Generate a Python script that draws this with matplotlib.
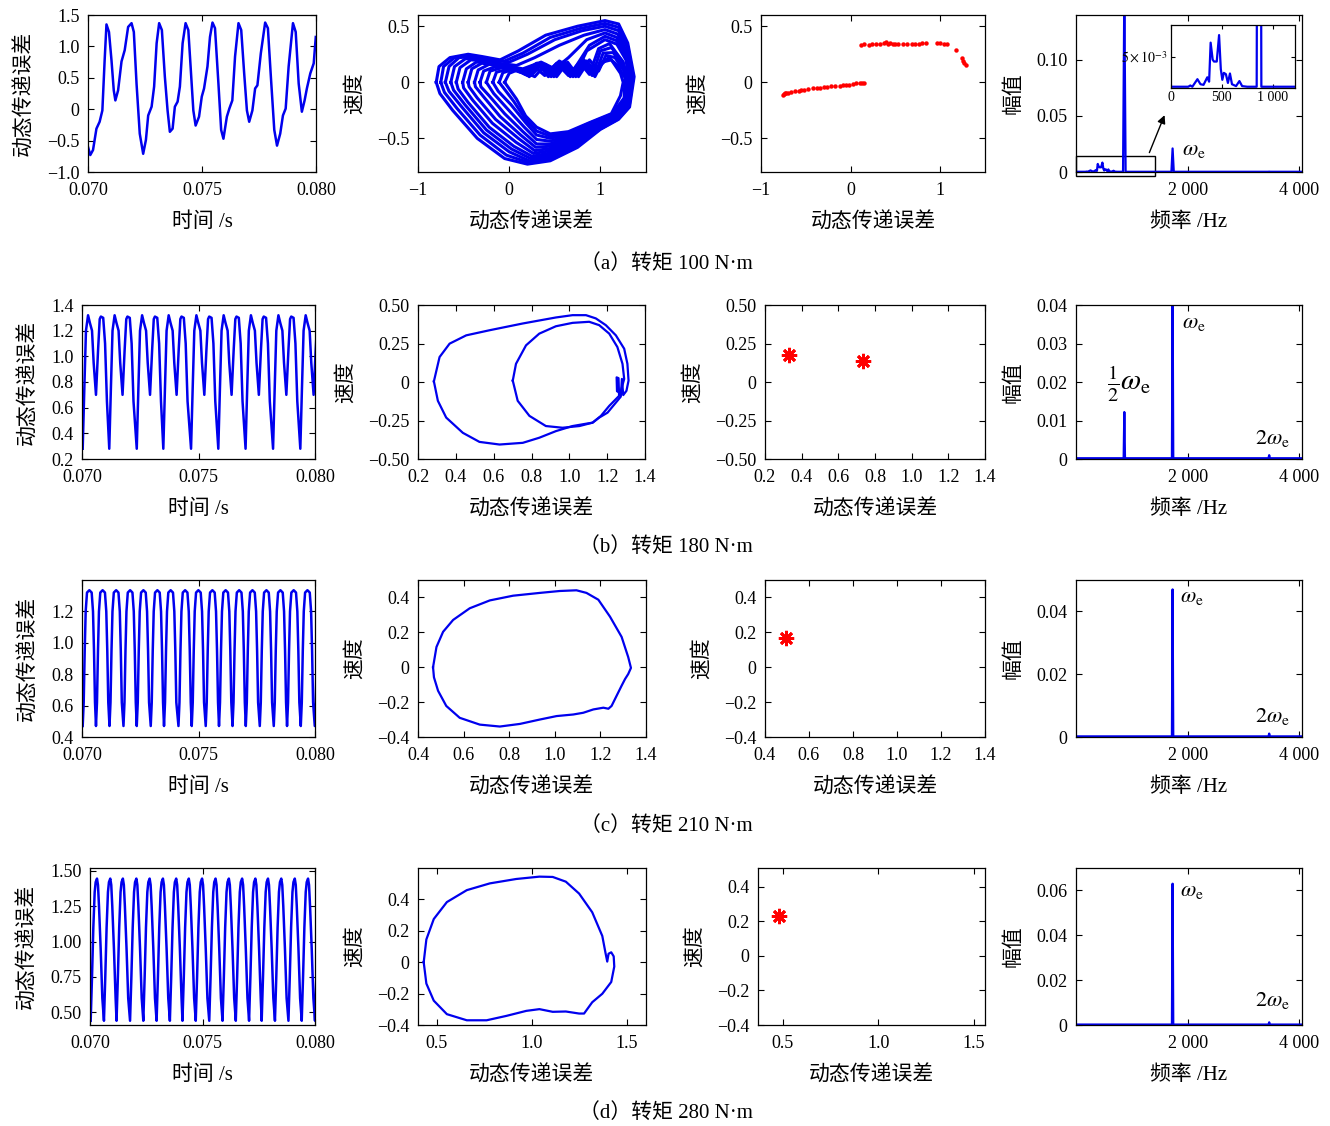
import numpy as np
import matplotlib.pyplot as plt
from matplotlib.patches import Rectangle

plt.rcParams['font.family'] = ['Liberation Serif', 'Noto Sans CJK SC']
plt.rcParams['mathtext.fontset'] = 'stix'
plt.rcParams['font.size'] = 13
plt.rcParams['xtick.direction'] = 'in'
plt.rcParams['ytick.direction'] = 'in'
plt.rcParams['xtick.top'] = True
plt.rcParams['ytick.right'] = True
plt.rcParams['xtick.major.size'] = 4
plt.rcParams['ytick.major.size'] = 4
plt.rcParams['xtick.major.pad'] = 7
plt.rcParams['ytick.major.pad'] = 6
plt.rcParams['axes.linewidth'] = 0.9

BLUE = '#0000ee'
RED = '#ff0000'

# ---------------- data ----------------
# (a) 100 N·m time series
t_a = [0.07000, 0.07010, 0.07022, 0.07037, 0.07051, 0.07063, 0.07073, 0.07081, 0.07092, 0.07103,
       0.07113, 0.07120, 0.07132, 0.07147, 0.07161, 0.07176, 0.07191, 0.07201, 0.07213, 0.07227,
       0.07242, 0.07254, 0.07264, 0.07279, 0.07290, 0.07301, 0.07312, 0.07324, 0.07337, 0.07349,
       0.07359, 0.07371, 0.07381, 0.07393, 0.07403, 0.07415, 0.07428, 0.07440, 0.07450, 0.07462,
       0.07472, 0.07487, 0.07499, 0.07509, 0.07524, 0.07535, 0.07546, 0.07557, 0.07572, 0.07584,
       0.07594, 0.07609, 0.07620, 0.07633, 0.07645, 0.07660, 0.07672, 0.07685, 0.07697, 0.07707,
       0.07721, 0.07733, 0.07743, 0.07758, 0.07777, 0.07789, 0.07802, 0.07817, 0.07829, 0.07843,
       0.07855, 0.07867, 0.07880, 0.07899, 0.07911, 0.07924, 0.07938, 0.07950, 0.07960, 0.07975,
       0.07990, 0.07999]
y_a = [-0.60, -0.73, -0.65, -0.31, -0.20, -0.02, 0.78, 1.35, 1.23, 0.78,
       0.30, 0.14, 0.30, 0.76, 0.94, 1.31, 1.37, 1.23, 0.40, -0.39,
       -0.71, -0.49, -0.10, 0.04, 0.36, 1.05, 1.37, 1.26, 0.52, -0.02,
       -0.36, -0.31, 0.04, 0.12, 0.36, 1.05, 1.37, 1.26, 0.68, -0.02,
       -0.26, -0.12, 0.20, 0.33, 0.68, 1.15, 1.38, 1.29, 0.41, -0.33,
       -0.47, -0.12, 0.01, 0.14, 0.84, 1.37, 1.26, 0.57, -0.02, -0.20,
       -0.02, 0.33, 0.38, 0.89, 1.38, 1.29, 0.52, -0.33, -0.58, -0.39,
       -0.10, 0.01, 0.68, 1.37, 1.23, 0.41, -0.04, 0.14, 0.33, 0.57,
       0.73, 1.15]

# periodic series: cycle start times + one cycle waveform
b_start = [0.07003, 0.07117, 0.07235, 0.07349, 0.07468, 0.07585, 0.07702, 0.07820, 0.07937]
b_dt = [0, 0.00007, 0.00014, 0.00023, 0.00031, 0.00040, 0.00047, 0.00057, 0.00066, 0.00073,
        0.00078, 0.00088, 0.00096, 0.00104]
b_wave = [0.28, 0.75, 1.20, 1.32, 1.26, 1.20, 0.95, 0.70, 1.05, 1.29, 1.31, 1.30, 1.10, 0.65]

c_start = [0.07003, 0.07060, 0.07118, 0.07178, 0.07235, 0.07295, 0.07352, 0.07414, 0.07471,
           0.07531, 0.07588, 0.07646, 0.07703, 0.07763, 0.07823, 0.07880, 0.07939, 0.07999]
c_dt = [0, 0.000043, 0.000086, 0.000128, 0.000185, 0.000285, 0.000385, 0.000442, 0.000485, 0.000528]
c_wave = [0.47, 0.62, 0.95, 1.20, 1.32, 1.335, 1.32, 1.20, 0.95, 0.62]

d_start = [0.07003, 0.07062, 0.07118, 0.07178, 0.07237, 0.07296, 0.07355, 0.07411, 0.07470,
           0.07530, 0.07589, 0.07648, 0.07707, 0.07763, 0.07822, 0.07882, 0.07941, 0.08000]
d_dt = [0, 0.000059, 0.000118, 0.000178, 0.000222, 0.000281, 0.000325, 0.000370, 0.000444, 0.000518]
d_wave = [0.44, 0.75, 1.10, 1.35, 1.42, 1.445, 1.40, 1.25, 0.95, 0.60]

# (a) phase portrait: loops of the chaotic band, outermost to innermost
loops_a = [
    [(-0.80, 0.00), (-0.77, 0.14), (-0.65, 0.22), (-0.45, 0.25), (-0.30, 0.23), (-0.10, 0.20),
     (0.10, 0.28), (0.40, 0.42), (0.75, 0.50), (1.05, 0.55), (1.20, 0.52), (1.30, 0.35),
     (1.37, 0.05), (1.32, -0.22), (1.20, -0.33), (1.00, -0.42), (0.75, -0.58), (0.45, -0.70),
     (0.20, -0.73), (-0.05, -0.68), (-0.35, -0.50), (-0.62, -0.25), (-0.76, -0.10), (-0.80, 0.00)],
    [(-0.75, 0.00), (-0.72, 0.14), (-0.60, 0.22), (-0.43, 0.24), (-0.25, 0.21), (-0.05, 0.19),
     (0.15, 0.26), (0.45, 0.40), (0.78, 0.48), (1.05, 0.525), (1.20, 0.49), (1.30, 0.32),
     (1.36, 0.05), (1.315, -0.22), (1.19, -0.33), (0.99, -0.42), (0.74, -0.57), (0.45, -0.685),
     (0.21, -0.715), (-0.03, -0.65), (-0.32, -0.47), (-0.57, -0.235), (-0.71, -0.09), (-0.75, 0.00)],
    [(-0.70, 0.00), (-0.66, 0.14), (-0.55, 0.22), (-0.40, 0.23), (-0.20, 0.20), (0.00, 0.18),
     (0.20, 0.25), (0.50, 0.38), (0.80, 0.46), (1.05, 0.50), (1.20, 0.46), (1.30, 0.30),
     (1.35, 0.05), (1.31, -0.22), (1.18, -0.33), (0.98, -0.42), (0.72, -0.56), (0.45, -0.67),
     (0.22, -0.70), (0.00, -0.62), (-0.28, -0.45), (-0.52, -0.22), (-0.66, -0.08), (-0.70, 0.00)],
    [(-0.64, 0.00), (-0.60, 0.14), (-0.48, 0.21), (-0.32, 0.21), (-0.12, 0.17), (0.08, 0.15),
     (0.28, 0.22), (0.55, 0.33), (0.82, 0.42), (1.05, 0.47), (1.19, 0.43), (1.29, 0.27),
     (1.34, 0.04), (1.305, -0.22), (1.175, -0.325), (0.965, -0.41), (0.71, -0.545), (0.45, -0.65),
     (0.235, -0.68), (0.025, -0.595), (-0.25, -0.425), (-0.485, -0.20), (-0.61, -0.07), (-0.64, 0.00)],
    [(-0.58, 0.00), (-0.54, 0.13), (-0.42, 0.20), (-0.25, 0.19), (-0.05, 0.15), (0.15, 0.12),
     (0.35, 0.18), (0.50, 0.12), (0.65, 0.22), (0.85, 0.38), (1.05, 0.44), (1.18, 0.40),
     (1.28, 0.25), (1.33, 0.03), (1.30, -0.22), (1.17, -0.32), (0.95, -0.40), (0.70, -0.53),
     (0.45, -0.63), (0.25, -0.66), (0.05, -0.57), (-0.22, -0.40), (-0.45, -0.18), (-0.56, -0.06),
     (-0.58, 0.00)],
    [(-0.51, 0.00), (-0.47, 0.12), (-0.36, 0.18), (-0.18, 0.17), (0.00, 0.14), (0.18, 0.10),
     (0.30, 0.17), (0.42, 0.09), (0.55, 0.19), (0.70, 0.10), (0.88, 0.33), (1.05, 0.41),
     (1.18, 0.37), (1.28, 0.22), (1.325, 0.02), (1.295, -0.21), (1.16, -0.315), (0.935, -0.395),
     (0.69, -0.515), (0.45, -0.61), (0.265, -0.635), (0.075, -0.535), (-0.185, -0.365),
     (-0.40, -0.16), (-0.50, -0.05), (-0.51, 0.00)],
    [(-0.45, 0.00), (-0.41, 0.12), (-0.30, 0.17), (-0.12, 0.15), (0.05, 0.12), (0.20, 0.08),
     (0.35, 0.15), (0.48, 0.08), (0.60, 0.18), (0.72, 0.06), (0.85, 0.28), (1.05, 0.38),
     (1.18, 0.34), (1.28, 0.20), (1.32, 0.02), (1.29, -0.20), (1.15, -0.31), (0.92, -0.39),
     (0.68, -0.50), (0.45, -0.59), (0.28, -0.61), (0.10, -0.50), (-0.15, -0.33), (-0.35, -0.14),
     (-0.44, -0.04), (-0.45, 0.00)],
    [(-0.38, 0.00), (-0.34, 0.11), (-0.22, 0.16), (-0.03, 0.13), (0.12, 0.09), (0.26, 0.15),
     (0.39, 0.06), (0.52, 0.17), (0.65, 0.06), (0.77, 0.18), (0.88, 0.07), (0.98, 0.30),
     (1.10, 0.345), (1.24, 0.19), (1.31, 0.02), (1.285, -0.19), (1.145, -0.305), (0.91, -0.385),
     (0.67, -0.49), (0.45, -0.57), (0.29, -0.58), (0.125, -0.47), (-0.10, -0.305), (-0.28, -0.13),
     (-0.37, -0.04), (-0.38, 0.00)],
    [(-0.32, 0.00), (-0.28, 0.10), (-0.15, 0.14), (0.05, 0.12), (0.20, 0.06), (0.32, 0.16),
     (0.45, 0.06), (0.58, 0.17), (0.70, 0.06), (0.82, 0.18), (0.92, 0.08), (1.00, 0.28),
     (1.12, 0.31), (1.25, 0.18), (1.30, 0.02), (1.28, -0.18), (1.14, -0.30), (0.90, -0.38),
     (0.66, -0.48), (0.45, -0.55), (0.30, -0.55), (0.15, -0.44), (-0.05, -0.28), (-0.22, -0.12),
     (-0.31, -0.04), (-0.32, 0.00)],
    [(-0.25, 0.00), (-0.21, 0.10), (-0.08, 0.13), (0.10, 0.11), (0.24, 0.06), (0.36, 0.16),
     (0.49, 0.05), (0.61, 0.18), (0.73, 0.05), (0.85, 0.19), (0.95, 0.09), (1.03, 0.26),
     (1.14, 0.265), (1.255, 0.14), (1.30, 0.00), (1.27, -0.175), (1.135, -0.295), (0.89, -0.375),
     (0.655, -0.47), (0.45, -0.525), (0.30, -0.51), (0.165, -0.40), (-0.015, -0.24), (-0.17, -0.10),
     (-0.25, 0.00)],
    [(-0.18, 0.00), (-0.14, 0.09), (0.00, 0.12), (0.15, 0.10), (0.28, 0.05), (0.40, 0.16),
     (0.52, 0.05), (0.64, 0.18), (0.76, 0.05), (0.88, 0.20), (0.98, 0.10), (1.06, 0.24),
     (1.16, 0.22), (1.26, 0.10), (1.30, -0.02), (1.26, -0.17), (1.13, -0.29), (0.88, -0.37),
     (0.65, -0.46), (0.45, -0.50), (0.30, -0.47), (0.18, -0.36), (0.02, -0.20), (-0.12, -0.08),
     (-0.18, 0.00)],
    [(-0.11, 0.00), (-0.07, 0.085), (0.06, 0.12), (0.18, 0.07), (0.31, 0.17), (0.43, 0.05),
     (0.55, 0.17), (0.67, 0.05), (0.79, 0.19), (0.91, 0.06), (1.00, 0.15), (1.09, 0.22),
     (1.19, 0.15), (1.27, 0.04), (1.26, -0.14), (1.125, -0.285), (0.88, -0.365), (0.65, -0.45),
     (0.45, -0.48), (0.30, -0.435), (0.18, -0.33), (0.05, -0.17), (-0.11, 0.00)],
    [(-0.05, 0.00), (0.00, 0.08), (0.12, 0.12), (0.22, 0.05), (0.34, 0.17), (0.46, 0.05),
     (0.58, 0.18), (0.70, 0.05), (0.82, 0.20), (0.94, 0.05), (1.02, 0.18), (1.12, 0.20),
     (1.22, 0.08), (1.25, 0.00), (1.22, -0.12), (1.12, -0.28), (0.88, -0.36), (0.65, -0.44),
     (0.45, -0.46), (0.30, -0.40), (0.18, -0.30), (0.08, -0.15), (-0.05, 0.00)],
]

# (a) Poincare section points
pc_a_x = [-0.75, -0.74, -0.73, -0.72, -0.70, -0.66, -0.62, -0.58, -0.55, -0.52, -0.48, -0.42,
          -0.38, -0.34, -0.30, -0.26, -0.22, -0.17, -0.12, -0.08, -0.05, -0.02, 0.03, 0.06,
          0.11, 0.13, 0.15,
          0.12, 0.15, 0.20, 0.24, 0.28, 0.33, 0.37, 0.40, 0.42, 0.44, 0.47, 0.50, 0.53, 0.58,
          0.63, 0.68, 0.72, 0.76, 0.80, 0.84, 0.96, 1.00, 1.04, 1.08, 1.18, 1.24, 1.26, 1.27, 1.29]
pc_a_y = [-0.11, -0.105, -0.10, -0.10, -0.095, -0.09, -0.08, -0.075, -0.07, -0.065, -0.06, -0.055,
          -0.05, -0.05, -0.045, -0.04, -0.035, -0.03, -0.03, -0.025, -0.02, -0.02, -0.015, -0.01,
          -0.01, -0.008, -0.005,
          0.33, 0.34, 0.335, 0.34, 0.34, 0.345, 0.35, 0.355, 0.34, 0.35, 0.34, 0.345, 0.34, 0.34,
          0.34, 0.345, 0.345, 0.345, 0.35, 0.35, 0.35, 0.35, 0.345, 0.34, 0.29, 0.22, 0.19, 0.17, 0.15]

# (b) phase portrait: outer and inner loop
outer_b = [(0.284, 0.004), (0.314, 0.162), (0.367, 0.249), (0.455, 0.303), (0.578, 0.336),
           (0.754, 0.380), (0.929, 0.419), (1.017, 0.434), (1.088, 0.434), (1.140, 0.413),
           (1.193, 0.369), (1.246, 0.303), (1.290, 0.216), (1.307, 0.118), (1.313, 0.009),
           (1.302, -0.057), (1.285, -0.085), (1.278, 0.020), (1.272, -0.095), (1.254, -0.122),
           (1.202, -0.199), (1.158, -0.231), (1.123, -0.264), (1.088, -0.271), (1.017, -0.286),
           (0.929, -0.319), (0.841, -0.362), (0.754, -0.395), (0.631, -0.406), (0.525, -0.389),
           (0.437, -0.330), (0.349, -0.231), (0.305, -0.122), (0.284, 0.004)]
inner_b = [(0.701, 0.009), (0.718, 0.118), (0.771, 0.238), (0.841, 0.314), (0.929, 0.362),
           (1.017, 0.384), (1.105, 0.391), (1.158, 0.369), (1.211, 0.314), (1.254, 0.227),
           (1.281, 0.118), (1.290, 0.020), (1.270, -0.070), (1.252, -0.060), (1.250, 0.030),
           (1.260, 0.025), (1.263, -0.090), (1.211, -0.155), (1.167, -0.220), (1.123, -0.264),
           (1.053, -0.286), (0.964, -0.297), (0.876, -0.286), (0.789, -0.220), (0.727, -0.122),
           (0.701, 0.009)]
pc_b_x = [0.331, 0.733]
pc_b_y = [0.175, 0.139]

# (c) phase portrait
loop_c = [(0.466, 0.000), (0.481, 0.116), (0.510, 0.203), (0.554, 0.271), (0.627, 0.338),
          (0.715, 0.383), (0.817, 0.410), (0.934, 0.426), (1.022, 0.437), (1.095, 0.441),
          (1.139, 0.426), (1.191, 0.387), (1.242, 0.290), (1.293, 0.174), (1.322, 0.058),
          (1.334, -0.004), (1.322, -0.039), (1.308, -0.068), (1.293, -0.106), (1.271, -0.164),
          (1.249, -0.222), (1.235, -0.238), (1.213, -0.232), (1.169, -0.242), (1.125, -0.261),
          (1.081, -0.271), (1.008, -0.280), (0.934, -0.300), (0.847, -0.325), (0.759, -0.340),
          (0.671, -0.329), (0.583, -0.290), (0.524, -0.222), (0.488, -0.135), (0.470, -0.058),
          (0.466, 0.000)]
pc_c_x = [0.495]
pc_c_y = [0.17]

# (d) phase portrait
loop_d = [(0.430, 0.000), (0.444, 0.145), (0.483, 0.275), (0.552, 0.383), (0.657, 0.459),
          (0.778, 0.502), (0.917, 0.530), (1.039, 0.545), (1.109, 0.543), (1.178, 0.513),
          (1.248, 0.437), (1.317, 0.318), (1.370, 0.167), (1.387, 0.058), (1.396, 0.004),
          (1.403, 0.054), (1.417, 0.063), (1.430, 0.037), (1.433, -0.028), (1.417, -0.126),
          (1.370, -0.201), (1.317, -0.255), (1.274, -0.327), (1.248, -0.327), (1.178, -0.314),
          (1.109, -0.316), (1.039, -0.299), (0.970, -0.310), (0.865, -0.342), (0.761, -0.370),
          (0.657, -0.370), (0.552, -0.331), (0.483, -0.245), (0.444, -0.136), (0.430, 0.000)]
pc_d_x = [0.48]
pc_d_y = [0.23]

# spectra
freq_a = [0, 170, 190, 210, 260, 290, 320, 357, 375, 390, 410, 423, 450, 473, 490, 505, 520, 540,
          560, 580, 600, 640, 673, 700, 750, 843, 866, 889, 1000, 1710, 1731, 1752, 2500, 3440,
          3462, 3484, 4050]
amp_a = [0.0002, 0.0002, 0.0004, 0.0002, 0.0014, 0.0006, 0.0005, 0.0017, 0.0010, 0.0072, 0.0045,
         0.0042, 0.0042, 0.0084, 0.0030, 0.0013, 0.0024, 0.0022, 0.0008, 0.0023, 0.0006, 0.0003,
         0.0011, 0.0003, 0.0002, 0.0002, 0.160, 0.0002, 0.0002, 0.0002, 0.021, 0.0002, 0.0002,
         0.0002, 0.0003, 0.0002, 0.0002]
freq_b = [0, 854, 866, 878, 1719, 1731, 1743, 3450, 3462, 3474, 4050]
amp_b = [0.0002, 0.0002, 0.0122, 0.0002, 0.0002, 0.045, 0.0002, 0.0002, 0.0010, 0.0002, 0.0002]
freq_c = [0, 1719, 1731, 1743, 3450, 3462, 3474, 4050]
amp_c = [0.0002, 0.0002, 0.047, 0.0002, 0.0002, 0.0011, 0.0002, 0.0002]
freq_d = [0, 1719, 1731, 1743, 3450, 3462, 3474, 4050]
amp_d = [0.0002, 0.0002, 0.063, 0.0002, 0.0002, 0.0012, 0.0002, 0.0002]

captions = ['（a）转矩 100 N·m', '（b）转矩 180 N·m', '（c）转矩 210 N·m', '（d）转矩 280 N·m']


def build(starts, dts, wave):
    t, y = [], []
    for s in starts:
        for dt, v in zip(dts, wave):
            t.append(s + dt)
            y.append(v)
    return t, y


def lbl(vals, fmt):
    out = []
    for v in vals:
        s = '0' if abs(v) < 1e-12 else format(v, fmt)
        out.append(s.replace('-', '−'))
    return out


W, H = 1330, 1126
fig = plt.figure(figsize=(W / 100, H / 100), dpi=100)


def add_ax(l, t, r, b):
    return fig.add_axes([l / W, 1 - b / H, (r - l) / W, (b - t) / H])


def style(ax, xlim, ylim, xt, xtl, yt, ytl, xlabel, ylabel):
    ax.set_xlim(*xlim)
    ax.set_ylim(*ylim)
    ax.set_xticks(xt)
    ax.set_xticklabels(xtl)
    ax.set_yticks(yt)
    ax.set_yticklabels(ytl)
    ax.set_xlabel(xlabel, labelpad=10, fontsize=15)
    ax.set_ylabel(ylabel, labelpad=9, fontsize=15)
    ax.tick_params(labelsize=13)


rows = [(15, 172), (305, 459), (580, 737), (868, 1025)]
cols = [[(88, 316), (418, 646), (761, 985), (1076, 1302)],
        [(82, 315), (418, 645), (765, 985), (1076, 1302)],
        [(82, 315), (418, 646), (765, 985), (1076, 1302)],
        [(90, 315), (418, 646), (758, 985), (1076, 1302)]]
cap_y = [264, 547, 826, 1113]

t_ticks = [0.070, 0.075, 0.080]
t_lbls = ['0.070', '0.075', '0.080']
f_ticks = [2000, 4000]
f_lbls = ['2 000', '4 000']
X_ERR = '动态传递误差'

axs = [[add_ax(l, rows[i][0], r, rows[i][1]) for (l, r) in cols[i]] for i in range(4)]

# ---- row a ----
ax = axs[0][0]
ax.plot(t_a, y_a, color=BLUE, lw=1.8)
yt = [-1.0, -0.5, 0, 0.5, 1.0, 1.5]
style(ax, (0.070, 0.080), (-1.0, 1.5), t_ticks, t_lbls, yt, lbl(yt, '.1f'), '时间 /s', X_ERR)

ax = axs[0][1]
for lp in loops_a:
    xs, ys = zip(*lp)
    ax.plot(xs, ys, color=BLUE, lw=2.2)
style(ax, (-1.0, 1.5), (-0.8, 0.6), [-1, 0, 1], ['−1', '0', '1'],
      [-0.5, 0, 0.5], ['−0.5', '0', '0.5'], X_ERR, '速度')

ax = axs[0][2]
ax.plot(pc_a_x, pc_a_y, 'o', color=RED, ms=3.2, mec='none')
style(ax, (-1.0, 1.5), (-0.8, 0.6), [-1, 0, 1], ['−1', '0', '1'],
      [-0.5, 0, 0.5], ['−0.5', '0', '0.5'], X_ERR, '速度')

ax = axs[0][3]
ax.plot(freq_a, amp_a, color=BLUE, lw=1.6)
style(ax, (0, 4050), (0, 0.14), f_ticks, f_lbls, [0, 0.05, 0.10], ['0', '0.05', '0.10'],
      '频率 /Hz', '幅值')
ax.add_patch(Rectangle((0, -0.0039), 1415, 0.0181, fill=False, ec='k', lw=1.0, clip_on=False))
ax.annotate('', xy=(1606, 0.053), xytext=(1296, 0.015),
            arrowprops=dict(arrowstyle='-|>', color='k', lw=1.0, mutation_scale=12))
ax.text(1893, 0.0196, r'$\omega_{\rm e}$', fontsize=16, va='center')

ins = add_ax(1171, 25, 1295, 88)
ins.plot(freq_a, amp_a, color=BLUE, lw=1.6)
ins.set_xlim(0, 1220)
ins.set_ylim(0, 0.01)
ins.set_xticks([0, 500, 1000])
ins.set_xticklabels(['0', '500', '1 000'])
ins.set_yticks([0.005])
ins.set_yticklabels([r'$5\times10^{-3}$'])
ins.tick_params(labelsize=10, length=3, pad=2)

# ---- row b ----
tb, yb = build(b_start, b_dt, b_wave)
ax = axs[1][0]
ax.plot(tb, yb, color=BLUE, lw=1.8)
yt = [0.2, 0.4, 0.6, 0.8, 1.0, 1.2, 1.4]
style(ax, (0.070, 0.080), (0.2, 1.4), t_ticks, t_lbls, yt, lbl(yt, '.1f'), '时间 /s', X_ERR)

ax = axs[1][1]
for lp in (outer_b, inner_b):
    xs, ys = zip(*lp)
    ax.plot(xs, ys, color=BLUE, lw=1.6)
xt = [0.2, 0.4, 0.6, 0.8, 1.0, 1.2, 1.4]
yt = [-0.5, -0.25, 0, 0.25, 0.5]
style(ax, (0.2, 1.4), (-0.5, 0.5), xt, lbl(xt, '.1f'), yt, lbl(yt, '.2f'), X_ERR, '速度')

ax = axs[1][2]
ax.plot(pc_b_x, pc_b_y, ls='none', marker=(8, 2, 0), color=RED, ms=11, mew=2)
style(ax, (0.2, 1.4), (-0.5, 0.5), xt, lbl(xt, '.1f'), yt, lbl(yt, '.2f'), X_ERR, '速度')

ax = axs[1][3]
ax.plot(freq_b, amp_b, color=BLUE, lw=1.6)
yt = [0, 0.01, 0.02, 0.03, 0.04]
style(ax, (0, 4050), (0, 0.04), f_ticks, f_lbls, yt, lbl(yt, '.2f'), '频率 /Hz', '幅值')
ax.text(1893, 0.0353, r'$\omega_{\rm e}$', fontsize=16, va='center')
ax.text(560, 0.0195, r'$\frac{1}{2}\omega_{\rm e}$', fontsize=21, va='center')
ax.text(3206, 0.0052, r'$2\omega_{\rm e}$', fontsize=16, va='center')

# ---- row c ----
tc, yc = build(c_start, c_dt, c_wave)
ax = axs[2][0]
ax.plot(tc, yc, color=BLUE, lw=1.8)
yt = [0.4, 0.6, 0.8, 1.0, 1.2]
style(ax, (0.070, 0.080), (0.4, 1.4), t_ticks, t_lbls, yt, lbl(yt, '.1f'), '时间 /s', X_ERR)

ax = axs[2][1]
xs, ys = zip(*loop_c)
ax.plot(xs, ys, color=BLUE, lw=1.6)
xt = [0.4, 0.6, 0.8, 1.0, 1.2, 1.4]
yt = [-0.4, -0.2, 0, 0.2, 0.4]
style(ax, (0.4, 1.4), (-0.4, 0.5), xt, lbl(xt, '.1f'), yt, lbl(yt, '.1f'), X_ERR, '速度')

ax = axs[2][2]
ax.plot(pc_c_x, pc_c_y, ls='none', marker=(8, 2, 0), color=RED, ms=11, mew=2)
style(ax, (0.4, 1.4), (-0.4, 0.5), xt, lbl(xt, '.1f'), yt, lbl(yt, '.1f'), X_ERR, '速度')

ax = axs[2][3]
ax.plot(freq_c, amp_c, color=BLUE, lw=1.6)
yt = [0, 0.02, 0.04]
style(ax, (0, 4050), (0, 0.05), f_ticks, f_lbls, yt, lbl(yt, '.2f'), '频率 /Hz', '幅值')
ax.text(1863, 0.0443, r'$\omega_{\rm e}$', fontsize=16, va='center')
ax.text(3206, 0.0066, r'$2\omega_{\rm e}$', fontsize=16, va='center')

# ---- row d ----
td, yd = build(d_start, d_dt, d_wave)
ax = axs[3][0]
ax.plot(td, yd, color=BLUE, lw=1.8)
yt = [0.50, 0.75, 1.00, 1.25, 1.50]
style(ax, (0.070, 0.080), (0.41, 1.52), t_ticks, t_lbls, yt, lbl(yt, '.2f'), '时间 /s', X_ERR)

ax = axs[3][1]
xs, ys = zip(*loop_d)
ax.plot(xs, ys, color=BLUE, lw=1.6)
xt = [0.5, 1.0, 1.5]
yt = [-0.4, -0.2, 0, 0.2, 0.4]
style(ax, (0.4, 1.6), (-0.4, 0.6), xt, lbl(xt, '.1f'), yt, lbl(yt, '.1f'), X_ERR, '速度')

ax = axs[3][2]
ax.plot(pc_d_x, pc_d_y, ls='none', marker=(8, 2, 0), color=RED, ms=11, mew=2)
style(ax, (0.37, 1.56), (-0.4, 0.51), xt, lbl(xt, '.1f'), yt, lbl(yt, '.1f'), X_ERR, '速度')

ax = axs[3][3]
ax.plot(freq_d, amp_d, color=BLUE, lw=1.6)
yt = [0, 0.02, 0.04, 0.06]
style(ax, (0, 4050), (0, 0.07), f_ticks, f_lbls, yt, lbl(yt, '.2f'), '频率 /Hz', '幅值')
ax.text(1863, 0.0593, r'$\omega_{\rm e}$', fontsize=16, va='center')
ax.text(3206, 0.011, r'$2\omega_{\rm e}$', fontsize=16, va='center')

for cap, cy in zip(captions, cap_y):
    fig.text(666 / W, 1 - cy / H, cap, ha='center', va='center', fontsize=15)

fig.savefig('out.png', dpi=100)
